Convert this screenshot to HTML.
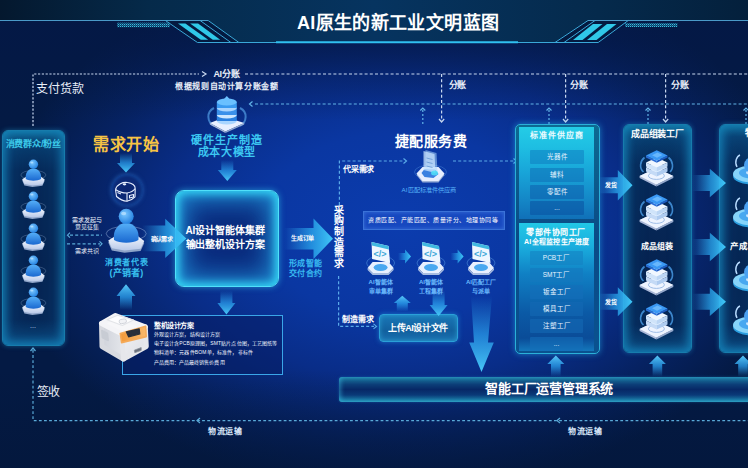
<!DOCTYPE html>
<html lang="zh-CN">
<head>
<meta charset="utf-8">
<style>
*{margin:0;padding:0;box-sizing:border-box}
html,body{width:748px;height:468px;overflow:hidden;background:#041a48}
body{position:relative;font-family:"Liberation Sans",sans-serif;color:#fff}
.a{position:absolute}
.bg{left:0;top:0;width:748px;height:468px;
 background:
  linear-gradient(180deg, rgba(4,24,70,.7) 40px, rgba(4,24,70,.35) 75px, rgba(4,24,70,0) 120px),
  linear-gradient(180deg, rgba(3,20,52,0) 0px, rgba(3,20,52,0) 370px, rgba(3,22,56,.55) 468px),
  radial-gradient(ellipse 400px 265px at 400px 225px, #0b3cae 0%, #0a37a2 35%, #092d88 58%, #062262 80%, #041a44 100%);
 background-color:#041a44}
.t{white-space:nowrap;line-height:1;z-index:3}
.k{display:inline-block;width:var(--w);text-align:center;font-style:normal}
.w{color:#fff}
.cy{color:#3cc8ee}
.panel{border-radius:6px;border:1px solid #177cac;box-shadow:0 0 5px rgba(40,180,235,.4), inset 0 0 9px 3px rgba(24,150,205,.65), inset 0 0 18px 6px rgba(20,110,170,.3);
 background:linear-gradient(180deg,#0c5a84 0px,#083e70 12px,#062a5a 40px,#062452 60%,#062858 88%,#0a4478 100%)}
.item{position:absolute;z-index:3;background:rgba(20,110,170,.55);border-radius:1px;font-size:6.5px;color:#e8f4ff;text-align:center;white-space:nowrap}
</style>
</head>
<body>
<div class="a bg"></div>

<!-- header band -->
<svg class="a" style="left:0;top:0" width="748" height="50">
 <defs>
  <linearGradient id="band" x1="0" x2="1" y1="0" y2="0">
   <stop offset="0" stop-color="#04182e"/>
   <stop offset="0.2" stop-color="#052a4a"/>
   <stop offset="0.5" stop-color="#063460"/>
   <stop offset="0.8" stop-color="#052a4c"/>
   <stop offset="1" stop-color="#04203c"/>
  </linearGradient>
  <pattern id="hatch" width="2" height="2" patternUnits="userSpaceOnUse">
   <rect width="1.2" height="1.2" fill="#37c0e0"/><rect x="1" y="1" width="1" height="1" fill="#2aa0c8" opacity=".6"/>
  </pattern>
 </defs>
 <polygon points="0,0 748,0 748,20.3 588,20.3 555,42.2 197.5,42.2 165.4,20.3 0,20.3" fill="url(#band)"/>
 <polygon points="165.4,20.3 208.2,20.3 238.9,42.4 197.5,42.4" fill="#041a40"/>
 <polygon points="588,20.3 628.2,20.3 598.2,42.2 555,42.2" fill="#041a40"/>
 <line x1="0" y1="20.5" x2="208" y2="20.5" stroke="#4a9ac8" stroke-width="1"/>
 <polyline points="165.4,20.5 197.5,42.5 238.9,42.5 208.2,20.5" stroke="#3aa8d8" fill="none"/>
 <line x1="200.1" y1="20.5" x2="230.9" y2="42.5" stroke="#3aa8d8"/>
 <polygon points="178,23.4 185.4,23.4 208.2,39.7 200.8,39.7" fill="#30c8e8"/>
 <polygon points="190.1,23.4 198.1,23.4 220.2,39.7 212.8,39.7" fill="#30c8e8"/>
 <rect x="117" y="22.7" width="53" height="4.5" fill="url(#hatch)"/>
 <line x1="238.9" y1="42.5" x2="276" y2="42.5" stroke="#3aa8d8"/>
 <line x1="276" y1="42.2" x2="518" y2="42.2" stroke="#30c0f0" stroke-width="2"/>
 <line x1="518" y1="42.5" x2="555" y2="42.5" stroke="#3aa8d8"/>
 <polyline points="555,42.5 588,20.5 628.2,20.5 598.2,42.5 555,42.5" stroke="#3aa8d8" fill="none"/>
 <line x1="564" y1="42.5" x2="595" y2="20.5" stroke="#3aa8d8"/>
 <line x1="588" y1="20.5" x2="748" y2="20.5" stroke="#4a9ac8"/>
 <polygon points="573,40 582.5,40 602.5,24 593,24" fill="#30c8e8"/>
 <polygon points="587,40 596.5,40 616.5,24 607,24" fill="#30c8e8"/>
 <rect x="625" y="23" width="52.4" height="4" fill="url(#hatch)"/>
</svg>
<div class="a t" style="left:296.90px;top:13.80px;font-size:18.00px;font-weight:bold;color:#fff;letter-spacing:0.36px;--w:18.36px">AI<i class="k">原</i><i class="k">生</i><i class="k">的</i><i class="k">新</i><i class="k">工</i><i class="k">业</i><i class="k">文</i><i class="k">明</i><i class="k">蓝</i><i class="k">图</i></div>

<!-- dashed lines -->
<svg class="a" style="left:0;top:0" width="748" height="468">
 <g fill="none" stroke-width="1.2">
  <path d="M33,126 V74 H199" stroke="#c8d8f0" stroke-dasharray="2.2 1.6"/>
  <path d="M202,71.5 L206,74 L202,76.5" stroke="#c8d8f0"/>
  <path d="M245,74 H748" stroke="#c8d8f0" stroke-dasharray="3 2.2"/>
  <path d="M441.6,74 V121" stroke="#c8d8f0" stroke-dasharray="3 2.2"/>
  <path d="M439,119 L441.6,122 L444.2,119" stroke="#c8d8f0"/>
  <path d="M565.6,74 V121" stroke="#c8d8f0" stroke-dasharray="3 2.2"/>
  <path d="M563,119 L565.6,122 L568.2,119" stroke="#c8d8f0"/>
  <path d="M665.6,74 V121" stroke="#c8d8f0" stroke-dasharray="3 2.2"/>
  <path d="M663,119 L665.6,122 L668.2,119" stroke="#c8d8f0"/>
  <path d="M255,104 H748" stroke="#62b4e8" stroke-dasharray="3 2.2"/>
  <path d="M252.5,101.5 L249.5,104 L252.5,106.5" stroke="#62b4e8"/>
  <path d="M422.8,110 V124" stroke="#62b4e8" stroke-dasharray="2 2"/>
  <path d="M420.3,110.5 L422.8,108 L425.3,110.5" stroke="#62b4e8"/>
  <path d="M549,110 V124" stroke="#62b4e8" stroke-dasharray="2 2"/>
  <path d="M546.5,110.5 L549,108 L551.5,110.5" stroke="#62b4e8"/>
  <path d="M648,110 V124" stroke="#62b4e8" stroke-dasharray="2 2"/>
  <path d="M645.5,110.5 L648,108 L650.5,110.5" stroke="#62b4e8"/>
  <path d="M746,110 V124" stroke="#62b4e8" stroke-dasharray="2 2"/>
  <path d="M743.5,110.5 L746,108 L748.5,110.5" stroke="#62b4e8"/>
  <path d="M33,350 V420.6 H748" stroke="#5aaad8" stroke-dasharray="2.8 2.3"/>
  <path d="M30.5,351 L33,348 L35.5,351" stroke="#5aaad8"/>
  <path d="M200,418 L197,420.6 L200,423" stroke="#5aaad8"/>
  <path d="M560,418 L557,420.6 L560,423" stroke="#5aaad8"/>
  <path d="M70,235.2 H102" stroke="#5aaad8" stroke-dasharray="3 2.2"/>
  <path d="M70,232.7 L67.5,235.2 L70,237.7" stroke="#5aaad8"/>
  <path d="M67,243.8 H100" stroke="#5aaad8" stroke-dasharray="3 2.2"/>
  <path d="M99.5,241.3 L102,243.8 L99.5,246.3" stroke="#5aaad8"/>
  <path d="M339.4,205 V161 H404" stroke="#5aaae8" stroke-dasharray="3 2.2"/>
  <path d="M403.5,158.5 L406.5,161 L403.5,163.5" stroke="#5aaae8"/>
  <path d="M453,161 H514" stroke="#5aaae8" stroke-dasharray="3 2.2"/>
  <path d="M513.5,158.5 L516.5,161 L513.5,163.5" stroke="#5aaae8"/>
  <path d="M338.6,276 V326.4 H374" stroke="#5aaae8" stroke-dasharray="3 2.2"/>
  <path d="M373.5,323.9 L376.5,326.4 L373.5,328.9" stroke="#5aaae8"/>
 </g>
</svg>

<!-- texts top -->
<div class="a t" style="left:36.20px;top:82.90px;font-size:12.00px;color:#e8eef8;letter-spacing:-0.08px;--w:11.92px"><i class="k">支</i><i class="k">付</i><i class="k">货</i><i class="k">款</i></div>
<div class="a t" style="left:213.40px;top:70.00px;font-size:9.00px;font-weight:bold;color:#e8eef8;letter-spacing:-0.27px;--w:8.73px">AI<i class="k">分</i><i class="k">账</i></div>
<div class="a t" style="left:175.00px;top:83.20px;font-size:8.00px;font-weight:bold;color:#e8eef8;letter-spacing:0.63px;--w:8.63px"><i class="k">根</i><i class="k">据</i><i class="k">规</i><i class="k">则</i><i class="k">自</i><i class="k">动</i><i class="k">计</i><i class="k">算</i><i class="k">分</i><i class="k">账</i><i class="k">金</i><i class="k">额</i></div>
<div class="a t" style="left:449.20px;top:80.60px;font-size:9.00px;font-weight:bold;color:#e8eef8;letter-spacing:-1.40px;--w:7.60px"><i class="k">分</i><i class="k">账</i></div>
<div class="a t" style="left:570.30px;top:80.60px;font-size:9.00px;font-weight:bold;color:#e8eef8;letter-spacing:-0.40px;--w:8.60px"><i class="k">分</i><i class="k">账</i></div>
<div class="a t" style="left:671.30px;top:80.60px;font-size:9.00px;font-weight:bold;color:#e8eef8;letter-spacing:-0.40px;--w:8.60px"><i class="k">分</i><i class="k">账</i></div>
<div class="a t" style="left:36.80px;top:385.50px;font-size:12.00px;color:#e8eef8;letter-spacing:-0.60px;--w:11.40px"><i class="k">签</i><i class="k">收</i></div>
<div class="a t" style="left:208.30px;top:428.00px;font-size:8.00px;font-weight:bold;color:#d8e6f8;letter-spacing:0.43px;--w:8.43px"><i class="k">物</i><i class="k">流</i><i class="k">运</i><i class="k">输</i></div>
<div class="a t" style="left:568.30px;top:428.00px;font-size:8.00px;font-weight:bold;color:#d8e6f8;letter-spacing:0.43px;--w:8.43px"><i class="k">物</i><i class="k">流</i><i class="k">运</i><i class="k">输</i></div>

<!-- left panel -->
<div class="a panel" style="left:2px;top:130px;width:63px;height:216px"></div>
<div class="a t" style="left:5.60px;top:139.50px;font-size:9.00px;font-weight:bold;color:#3cc8e8;letter-spacing:-0.14px;--w:8.86px"><i class="k">消</i><i class="k">费</i><i class="k">群</i><i class="k">众</i>/<i class="k">粉</i><i class="k">丝</i></div>

<!-- big panels right -->
<div class="a" style="left:514.5px;top:124px;width:85.5px;height:230px;border-radius:5px;background:linear-gradient(180deg,#0d6a92,#0a4a86 50%,#0a5290);border:1px solid #2ab0d8;box-shadow:0 0 6px rgba(40,190,240,.55)"></div>
<div class="a" style="left:519px;top:126.7px;width:75px;height:92px;background:linear-gradient(180deg,#24cce6 0%,#1ebee2 22%,#18a4d8 50%,#1486c6 80%,#1070b8 100%)"></div>
<div class="a" style="left:519px;top:222.8px;width:75px;height:128px;background:linear-gradient(180deg,#22c8e6 0%,#1aaede 18%,#1080c4 40%,#0b5aa6 70%,#0a4c98 90%,#1478bc 100%)"></div>
<div class="a t" style="left:530.20px;top:132.40px;font-size:8.00px;font-weight:bold;color:#e8fbff;letter-spacing:0.92px;--w:8.92px"><i class="k">标</i><i class="k">准</i><i class="k">件</i><i class="k">供</i><i class="k">应</i><i class="k">商</i></div>
<div class="item" style="left:530px;top:150px;width:54px;height:14px;line-height:14px;background:rgba(14,120,190,.5)">光器件</div>
<div class="item" style="left:530px;top:167.5px;width:54px;height:14px;line-height:14px;background:rgba(14,105,180,.5)">辅料</div>
<div class="item" style="left:530px;top:184.5px;width:54px;height:14px;line-height:14px;background:rgba(12,90,170,.5)">零配件</div>
<div class="item" style="left:530px;top:201.4px;width:54px;height:14px;line-height:14px;background:rgba(10,80,160,.55)">...</div>
<div class="a t" style="left:526.30px;top:229.30px;font-size:8.00px;font-weight:bold;color:#fff;letter-spacing:0.47px;--w:8.47px"><i class="k">零</i><i class="k">部</i><i class="k">件</i><i class="k">协</i><i class="k">同</i><i class="k">工</i><i class="k">厂</i></div>
<div class="a t" style="left:524.00px;top:238.40px;font-size:7.00px;font-weight:bold;color:#fff;letter-spacing:0.28px;--w:7.28px">AI<i class="k">全</i><i class="k">程</i><i class="k">监</i><i class="k">控</i><i class="k">生</i><i class="k">产</i><i class="k">进</i><i class="k">度</i></div>
<div class="item" style="left:530px;top:250.7px;width:53px;height:14px;line-height:14px;background:rgba(20,130,195,.6)">PCB工厂</div>
<div class="item" style="left:530px;top:267.8px;width:53px;height:14px;line-height:14px;background:rgba(20,120,190,.6)">SMT工厂</div>
<div class="item" style="left:530px;top:285px;width:53px;height:14px;line-height:14px;background:rgba(20,110,185,.6)">钣金工厂</div>
<div class="item" style="left:530px;top:302px;width:53px;height:14px;line-height:14px;background:rgba(20,105,180,.6)">模具工厂</div>
<div class="item" style="left:530px;top:319.4px;width:53px;height:14px;line-height:14px;background:rgba(20,105,180,.6)">注塑工厂</div>
<div class="item" style="left:530px;top:336.7px;width:53px;height:14.5px;line-height:14px;background:rgba(20,110,185,.6)">...</div>

<div class="a panel" style="left:622.5px;top:124px;width:69.7px;height:229px"></div>
<div class="a t" style="left:631.00px;top:130.10px;font-size:9.00px;font-weight:bold;color:#fff;letter-spacing:-0.20px;--w:8.80px"><i class="k">成</i><i class="k">品</i><i class="k">组</i><i class="k">装</i><i class="k">工</i><i class="k">厂</i></div>
<div class="a t" style="left:640.60px;top:242.50px;font-size:8.00px;font-weight:bold;color:#fff;letter-spacing:0.00px;--w:8.00px"><i class="k">成</i><i class="k">品</i><i class="k">组</i><i class="k">装</i></div>
<div class="a panel" style="left:718.8px;top:123.8px;width:40px;height:229.5px"></div>
<div class="a t" style="left:745px;top:128.5px;font-size:9px;font-weight:bold;color:#fff;--w:9.00px"><i class="k">物</i></div>
<div class="a t" style="left:730px;top:242px;font-size:8.5px;font-weight:bold;color:#fff;--w:9.00px"><i class="k">产</i><i class="k">成</i><i class="k">品</i></div>

<!-- left-center items -->
<div class="a t" style="left:93.00px;top:136.80px;font-size:16.00px;font-weight:bold;color:#f8c444;letter-spacing:0.67px;--w:16.67px"><i class="k">需</i><i class="k">求</i><i class="k">开</i><i class="k">始</i></div>
<div class="a" style="left:110.8px;top:174px;width:31.8px;height:31.8px;border-radius:50%;background:radial-gradient(circle at 50% 50%,#0a2470 0%,#0b2a78 55%,#1450a8 82%,#2468c0 94%,#1a4a9a 100%);box-shadow:0 0 4px rgba(60,140,230,.5)"></div>
<div class="a t" style="left:71.7px;top:216.6px;font-size:6px;color:#e8f0fa;--w:6.00px"><i class="k">需</i><i class="k">求</i><i class="k">发</i><i class="k">起</i><i class="k">与</i></div>
<div class="a t" style="left:74.7px;top:224.3px;font-size:6px;color:#e8f0fa;--w:6.00px"><i class="k">意</i><i class="k">见</i><i class="k">征</i><i class="k">集</i></div>
<div class="a t" style="left:74.7px;top:248.2px;font-size:6px;color:#e8f0fa;--w:6.00px"><i class="k">需</i><i class="k">求</i><i class="k">共</i><i class="k">识</i></div>
<div class="a t" style="left:105.40px;top:259.20px;font-size:8.00px;font-weight:bold;color:#38c0f0;letter-spacing:0.55px;--w:8.55px"><i class="k">消</i><i class="k">费</i><i class="k">者</i><i class="k">代</i><i class="k">表</i></div>
<div class="a t" style="left:109.50px;top:268.50px;font-size:9.00px;font-weight:bold;color:#38c0f0;letter-spacing:0.20px;--w:9.20px">(<i class="k">产</i><i class="k">销</i><i class="k">者</i>)</div>
<div class="a t" style="left:151.00px;top:236.30px;font-size:6.00px;font-weight:bold;color:#fff;letter-spacing:-0.76px;--w:5.24px"><i class="k">确</i><i class="k">认</i><i class="k">需</i><i class="k">求</i></div>

<!-- model -->
<div class="a t" style="left:191.00px;top:135.20px;font-size:11.00px;font-weight:bold;color:#3cc8f2;letter-spacing:0.94px;--w:11.94px"><i class="k">硬</i><i class="k">件</i><i class="k">生</i><i class="k">产</i><i class="k">制</i><i class="k">造</i></div>
<div class="a t" style="left:197.80px;top:146.90px;font-size:11.00px;font-weight:bold;color:#3cc8f2;letter-spacing:0.60px;--w:11.60px"><i class="k">成</i><i class="k">本</i><i class="k">大</i><i class="k">模</i><i class="k">型</i></div>

<!-- central box -->
<div class="a" style="left:174.7px;top:189.7px;width:104.3px;height:97.5px;border-radius:9px;border:1px solid #50e0fa;
 background:#0a2a7c;
 box-shadow:0 0 6px rgba(50,200,240,.6), inset 0 0 8px 3px rgba(52,212,244,1), inset 0 0 22px 8px rgba(36,160,226,.75), inset 0 0 34px 14px rgba(20,90,180,.5)"></div>
<div class="a t" style="left:185.50px;top:226.40px;font-size:10.00px;font-weight:bold;color:#fff;letter-spacing:-0.12px;--w:9.88px">AI<i class="k">设</i><i class="k">计</i><i class="k">智</i><i class="k">能</i><i class="k">体</i><i class="k">集</i><i class="k">群</i></div>
<div class="a t" style="left:185.50px;top:239.50px;font-size:10.00px;font-weight:bold;color:#fff;letter-spacing:-0.14px;--w:9.86px"><i class="k">输</i><i class="k">出</i><i class="k">整</i><i class="k">机</i><i class="k">设</i><i class="k">计</i><i class="k">方</i><i class="k">案</i></div>
<div class="a t" style="left:291.00px;top:234.50px;font-size:6.00px;font-weight:bold;color:#fff;letter-spacing:-0.17px;--w:5.83px"><i class="k">生</i><i class="k">成</i><i class="k">订</i><i class="k">单</i></div>
<div class="a t" style="left:289.00px;top:259.70px;font-size:8.00px;font-weight:bold;color:#38b8f0;letter-spacing:0.28px;--w:8.28px"><i class="k">形</i><i class="k">成</i><i class="k">智</i><i class="k">能</i></div>
<div class="a t" style="left:289.00px;top:270.20px;font-size:8.00px;font-weight:bold;color:#38b8f0;letter-spacing:0.28px;--w:8.28px"><i class="k">交</i><i class="k">付</i><i class="k">合</i><i class="k">约</i></div>
<div class="a" style="z-index:3;left:333.7px;top:205.5px;width:10px;font-weight:bold;font-size:10px;line-height:10.7px;color:#fff;text-align:center">采购制造需求</div>

<!-- plan box -->
<div class="a" style="left:121.5px;top:314.7px;width:161.5px;height:60.2px;border:1.2px solid #3aa6e8;background:rgba(6,30,100,.55)"></div>
<div class="a t" style="left:154.00px;top:321.60px;font-size:7.00px;font-weight:bold;color:#fff;letter-spacing:-0.44px;--w:6.56px"><i class="k">整</i><i class="k">机</i><i class="k">设</i><i class="k">计</i><i class="k">方</i><i class="k">案</i></div>
<div class="a t" style="left:153.50px;top:332.30px;font-size:5.00px;color:#f0f6ff;letter-spacing:0.17px;--w:5.17px"><i class="k">外</i><i class="k">观</i><i class="k">设</i><i class="k">计</i><i class="k">方</i><i class="k">案</i><i class="k">，</i><i class="k">结</i><i class="k">构</i><i class="k">设</i><i class="k">计</i><i class="k">方</i><i class="k">案</i></div>
<div class="a t" style="left:153.70px;top:340.80px;font-size:5.00px;color:#f0f6ff;letter-spacing:0.12px;--w:5.12px"><i class="k">电</i><i class="k">子</i><i class="k">设</i><i class="k">计</i><i class="k">含</i>PCB<i class="k">原</i><i class="k">理</i><i class="k">图</i><i class="k">，</i>SMT<i class="k">贴</i><i class="k">片</i><i class="k">点</i><i class="k">位</i><i class="k">图</i><i class="k">，</i><i class="k">工</i><i class="k">艺</i><i class="k">图</i><i class="k">纸</i><i class="k">等</i></div>
<div class="a t" style="left:153.50px;top:350.30px;font-size:5.00px;color:#f0f6ff;letter-spacing:0.16px;--w:5.16px"><i class="k">物</i><i class="k">料</i><i class="k">清</i><i class="k">单</i><i class="k">：</i><i class="k">元</i><i class="k">器</i><i class="k">件</i>BOM<i class="k">单</i><i class="k">，</i><i class="k">标</i><i class="k">准</i><i class="k">件</i><i class="k">，</i><i class="k">非</i><i class="k">标</i><i class="k">件</i></div>
<div class="a t" style="left:153.50px;top:359.80px;font-size:5.00px;color:#f0f6ff;letter-spacing:0.08px;--w:5.08px"><i class="k">产</i><i class="k">品</i><i class="k">费</i><i class="k">用</i><i class="k">：</i><i class="k">产</i><i class="k">品</i><i class="k">最</i><i class="k">终</i><i class="k">销</i><i class="k">售</i><i class="k">价</i><i class="k">费</i><i class="k">用</i></div>

<!-- 捷配 -->
<div class="a t" style="left:394.50px;top:133.50px;font-size:14.00px;font-weight:bold;color:#fff;letter-spacing:0.65px;--w:14.65px"><i class="k">捷</i><i class="k">配</i><i class="k">服</i><i class="k">务</i><i class="k">费</i></div>
<div class="a t" style="left:343.00px;top:165.70px;font-size:8.00px;font-weight:bold;color:#fff;letter-spacing:-0.24px;--w:7.76px"><i class="k">代</i><i class="k">采</i><i class="k">需</i><i class="k">求</i></div>
<div class="a t" style="left:401.5px;top:187px;font-size:6.2px;color:#58b4fa;letter-spacing:.1px;--w:6.10px">AI<i class="k">匹</i><i class="k">配</i><i class="k">标</i><i class="k">准</i><i class="k">件</i><i class="k">供</i><i class="k">应</i><i class="k">商</i></div>
<div class="a" style="left:362.5px;top:210.5px;width:142px;height:19px;border:1px solid #3a72d8;background:#1748c0;box-shadow:inset 0 0 4px rgba(90,150,240,.5)"></div>
<div class="a t" style="left:368.00px;top:216.80px;font-size:6.00px;color:#fff;letter-spacing:0.53px;--w:6.53px"><i class="k">资</i><i class="k">质</i><i class="k">匹</i><i class="k">配</i><i class="k">、</i><i class="k">产</i><i class="k">能</i><i class="k">匹</i><i class="k">配</i><i class="k">、</i><i class="k">质</i><i class="k">量</i><i class="k">评</i><i class="k">分</i><i class="k">、</i><i class="k">地</i><i class="k">理</i><i class="k">协</i><i class="k">同</i><i class="k">等</i></div>
<div class="a t" style="left:350.6px;top:279.0px;width:60px;text-align:center;font-size:6px;font-weight:bold;color:#6cbcff;z-index:4;--w:6.00px">AI<i class="k">智</i><i class="k">能</i><i class="k">体</i></div>
<div class="a t" style="left:350.6px;top:287.5px;width:60px;text-align:center;font-size:6px;font-weight:bold;color:#6cbcff;z-index:4;--w:6.00px"><i class="k">审</i><i class="k">单</i><i class="k">集</i><i class="k">群</i></div>
<div class="a t" style="left:401.0px;top:279.0px;width:60px;text-align:center;font-size:6px;font-weight:bold;color:#6cbcff;z-index:4;--w:6.00px">AI<i class="k">智</i><i class="k">能</i><i class="k">体</i></div>
<div class="a t" style="left:401.0px;top:287.5px;width:60px;text-align:center;font-size:6px;font-weight:bold;color:#6cbcff;z-index:4;--w:6.00px"><i class="k">工</i><i class="k">程</i><i class="k">集</i><i class="k">群</i></div>
<div class="a t" style="left:451.0px;top:279.0px;width:60px;text-align:center;font-size:6px;font-weight:bold;color:#6cbcff;z-index:4;--w:6.00px">AI<i class="k">匹</i><i class="k">配</i><i class="k">工</i><i class="k">厂</i></div>
<div class="a t" style="left:451.0px;top:287.5px;width:60px;text-align:center;font-size:6px;font-weight:bold;color:#6cbcff;z-index:4;--w:6.00px"><i class="k">与</i><i class="k">派</i><i class="k">单</i></div>
<div class="a" style="left:378.9px;top:313.9px;width:78.8px;height:27.9px;border-radius:4px;border:1px solid #2aa0d8;
 background:linear-gradient(180deg,#1a78b8,#12609e 60%,#1a70b0);box-shadow:0 0 5px rgba(40,180,240,.5),inset 0 0 5px rgba(60,200,240,.5)"></div>
<div class="a t" style="left:388.00px;top:323.70px;font-size:9.00px;font-weight:bold;color:#fff;letter-spacing:-0.39px;--w:8.61px"><i class="k">上</i><i class="k">传</i>AI<i class="k">设</i><i class="k">计</i><i class="k">文</i><i class="k">件</i></div>
<div class="a t" style="left:342.00px;top:316.00px;font-size:8.00px;font-weight:bold;color:#fff;letter-spacing:0.06px;--w:8.06px"><i class="k">制</i><i class="k">造</i><i class="k">需</i><i class="k">求</i></div>
<div class="a t" style="left:604.70px;top:182.00px;font-size:6.00px;font-weight:bold;color:#fff;letter-spacing:0.50px;--w:6.50px"><i class="k">发</i><i class="k">货</i></div>
<div class="a t" style="left:604.70px;top:299.10px;font-size:6.00px;font-weight:bold;color:#fff;letter-spacing:0.50px;--w:6.50px"><i class="k">发</i><i class="k">货</i></div>

<!-- bottom bar -->
<div class="a" style="left:338.8px;top:376.8px;width:420px;height:25.2px;border-radius:3px;
 background:linear-gradient(180deg,#2080a8 0,#186c98 8%,#0c3e78 30%,#072866 50%,#0a3a78 72%,#1a7aa6 92%,#2a96b8 100%);
 box-shadow:inset 2px 0 4px rgba(60,190,230,.5),0 0 3px rgba(40,160,220,.35)"></div>
<div class="a t" style="left:485.20px;top:382.10px;font-size:13.00px;font-weight:bold;color:#fff;letter-spacing:-0.19px;--w:12.81px"><i class="k">智</i><i class="k">能</i><i class="k">工</i><i class="k">厂</i><i class="k">运</i><i class="k">营</i><i class="k">管</i><i class="k">理</i><i class="k">系</i><i class="k">统</i></div>


<!-- ====== ICON DEFS ====== -->
<svg class="a" style="left:0;top:0" width="0" height="0">
 <defs>
  <radialGradient id="gHead" cx="0.4" cy="0.35" r="0.7">
   <stop offset="0" stop-color="#7cc8ff"/><stop offset="1" stop-color="#1f7ee0"/>
  </radialGradient>
  <linearGradient id="gBody" x1="0" y1="0" x2="0" y2="1">
   <stop offset="0" stop-color="#56b0f8"/><stop offset="1" stop-color="#1a68d0"/>
  </linearGradient>
  <linearGradient id="gBase" x1="0" y1="0" x2="0" y2="1">
   <stop offset="0" stop-color="#f4f8ff"/><stop offset="1" stop-color="#b8c8e8"/>
  </linearGradient>
  <linearGradient id="gArrR" x1="0" y1="0" x2="1" y2="0">
   <stop offset="0" stop-color="#2a9ee8" stop-opacity="0"/><stop offset="0.55" stop-color="#2aa8ee" stop-opacity=".75"/><stop offset="1" stop-color="#40c8f8"/>
  </linearGradient>
  <linearGradient id="gArrD" x1="0" y1="0" x2="0" y2="1">
   <stop offset="0" stop-color="#2a9ee8" stop-opacity="0"/><stop offset="0.5" stop-color="#2aa0ee" stop-opacity=".7"/><stop offset="1" stop-color="#48c8f8"/>
  </linearGradient>
  <linearGradient id="gArrU" x1="0" y1="1" x2="0" y2="0">
   <stop offset="0" stop-color="#2a9ee8" stop-opacity="0"/><stop offset="0.5" stop-color="#2aa0ee" stop-opacity=".75"/><stop offset="1" stop-color="#58c8f8"/>
  </linearGradient>
  <g id="person">
   <ellipse cx="0" cy="1" rx="12.5" ry="4.6" fill="none" stroke="#b8d0f0" stroke-width=".5" opacity=".5"/>
   <polygon points="-11.2,6.5 -6.5,3.5 7,3.5 11.3,6.8 9,11.8 -1,13 -9,11.5" fill="#8ea4c8"/>
   <polygon points="-11.2,5.3 -6.5,2.3 7,2.3 11.3,5.6 9,10.4 -1,11.6 -9,10.1" fill="url(#gBase)"/>
   <path d="M-7.6,5 C-8.6,-1 -5,-5.6 0,-5.6 C5,-5.6 8.6,-1 7.6,5 C4,7.2 -4,7.2 -7.6,5 Z" fill="url(#gBody)"/>
   <circle cx="0" cy="-9.8" r="4.7" fill="url(#gHead)"/>
   <ellipse cx="-1.6" cy="-11.5" rx="1.6" ry="1.1" fill="#c0e4ff" opacity=".7"/>
  </g>
  <g id="cube">
   <path d="M-12.5,5 C-17,1 -16,-6 -11.5,-9.5" fill="none" stroke="#4a9ee8" stroke-width="1.6" opacity=".8"/>
   <path d="M12.5,-9.5 C17,-6 18,1 14,5" fill="none" stroke="#4a9ee8" stroke-width="1.6" opacity=".8"/>
   <polygon points="-16.4,9 0.4,1 17.3,9 0.4,17.4 0.4,19.4 -16.4,11" fill="#aab8d8"/>
   <polygon points="17.3,9 17.3,11 0.4,19.4 0.4,17.4" fill="#95a8cc"/>
   <polygon points="-16.4,9 0.4,1 17.3,9 0.4,17.4" fill="#eef4ff"/>
   <ellipse cx="0.4" cy="8.8" rx="8" ry="3.6" fill="none" stroke="#8aaee0" stroke-width=".8"/>
   <polygon points="-10,0.5 0.7,-4.5 11.5,0.5 0.7,5.5" fill="#dfeeff"/>
   <polygon points="-10,0.5 0.7,5.5 0.7,9.5 -10,4.5" fill="#c4daf6"/>
   <polygon points="11.5,0.5 0.7,5.5 0.7,9.5 11.5,4.5" fill="#aecbf0"/>
   <polygon points="-10,-4.5 0.7,-9.5 11.5,-4.5 0.7,0.5" fill="#f0f7ff"/>
   <polygon points="-10,-4.5 0.7,0.5 0.7,4.5 -10,-0.5" fill="#d0e4fa"/>
   <polygon points="11.5,-4.5 0.7,0.5 0.7,4.5 11.5,-0.5" fill="#bcd6f4"/>
   <polygon points="-10,-11.4 0.7,-6.2 0.7,-4.2 -10,-9.4" fill="#2a6ed8"/>
   <polygon points="11.5,-11.4 0.7,-6.2 0.7,-4.2 11.5,-9.4" fill="#1e5cc4"/>
   <polygon points="-10,-11.4 0.7,-16.7 11.5,-11.4 0.7,-6.2" fill="#3a98f4"/>
   <polygon points="-4,-11.8 1.5,-14.5 6.5,-12 1,-9.3" fill="#7cc4ff" opacity=".7"/>
  </g>
  <g id="disc">
   <ellipse cx="0" cy="2" rx="19" ry="8.5" fill="#2a9ee0"/>
   <ellipse cx="0" cy="0" rx="19" ry="8.5" fill="#86d4fa"/>
   <ellipse cx="0" cy="-1" rx="13" ry="5.5" fill="#48a8f0"/>
   <ellipse cx="1" cy="-1.5" rx="7" ry="3" fill="#c8e4ff"/>
   <ellipse cx="1" cy="-9" rx="9" ry="8" fill="#4aa0f0"/>
   <path d="M-15,-7 C-18,-12 -15,-18 -12,-19" fill="none" stroke="#b8dcff" stroke-width="1.4"/>
  </g>
  <g id="mon">
   <ellipse cx="0" cy="5" rx="14" ry="7" fill="none" stroke="#6ab0f0" stroke-width=".7" opacity=".6"/>
   <polygon points="-13,10 -8,4 8,4 13,10 8,15 -8,15" fill="#e8f0ff"/>
   <polygon points="-13,10 -8,15 8,15 13,10 13,12 8,17 -8,17 -13,12" fill="#a8bce0"/>
   <ellipse cx="0" cy="9.5" rx="7" ry="3.5" fill="#4aa8f0"/>
   <polygon points="-9,-16 8,-12 9.5,5 -8.5,1" fill="#eef6ff"/>
   <polygon points="-9,-16 8,-12 8.3,-8.5 -8.7,-12.5" fill="#40b8e0"/>
   <text x="-0.5" y="-1" font-size="9" fill="#40a8d8" text-anchor="middle" font-family="Liberation Sans" font-weight="bold">&lt;/&gt;</text>
  </g>
  <g id="doc">
   <ellipse cx="0" cy="8" rx="16" ry="7" fill="none" stroke="#6ab0f0" stroke-width=".6" opacity=".5"/>
   <polygon points="-14,11 -8,4 8,4 14,11 8,18.4 -8,18.4" fill="#9ab0d8"/>
   <polygon points="-14,9.6 -8,3 8,3 14,9.6 8,17 -8,17" fill="#e6eeff"/>
   <polygon points="-6,5 4,5 8,10 3,14 -6,13 -9,9" fill="#3a80e0"/>
   <polygon points="-5,-14 6,-11 7,8 -5,5" fill="#a8d4fa" opacity=".55"/>
   <polygon points="-7,-13 4,-10 5,9 -7,6" fill="#c8e4ff" opacity=".75"/>
   <line x1="-4" y1="-6" x2="2" y2="-4.5" stroke="#5a90d0" stroke-width=".7"/>
   <line x1="-4" y1="-2" x2="2" y2="-0.5" stroke="#5a90d0" stroke-width=".7"/>
   <line x1="-4" y1="2" x2="2" y2="3.5" stroke="#5a90d0" stroke-width=".7"/>
   <ellipse cx="4" cy="9" rx="3.5" ry="2.5" fill="#50e0f8" opacity=".85"/>
  </g>
 </defs>
</svg>

<!-- arrows -->
<svg class="a" style="left:0;top:0" width="748" height="468">
<polygon points="142,225.6 165.2,225.6 165.2,218.8 186.3,238.4 165.2,258 165.2,251.2 142,251.2" fill="url(#gArrR)"/>
<polygon points="284,228.10000000000002 313.5,228.10000000000002 313.5,218.5 333,238.8 313.5,259.1 313.5,249.5 284,249.5" fill="url(#gArrR)"/>
<polygon points="598,177.3 617.8,177.3 617.8,170.0 632.5,185.3 617.8,200.60000000000002 617.8,193.3 598,193.3" fill="url(#gArrR)"/>
<polygon points="598,293.7 617.8,293.7 617.8,287.2 632.5,301.7 617.8,316.2 617.8,309.7 598,309.7" fill="url(#gArrR)"/>
<polygon points="692,175 709.8,175 709.8,168.8 726,183 709.8,197.2 709.8,191 692,191" fill="url(#gArrR)"/>
<polygon points="692,239 709.8,239 709.8,232.8 726,247 709.8,261.2 709.8,255 692,255" fill="url(#gArrR)"/>
<polygon points="692,293.7 709.8,293.7 709.8,287.5 726,301.7 709.8,315.9 709.8,309.7 692,309.7" fill="url(#gArrR)"/>
<polygon points="120,153 132,153 132,163 135,163 126,172.4 117,163 120,163" fill="url(#gArrD)"/>
<polygon points="221.3,160 233.3,160 233.3,170 236.8,170 227.3,181 217.8,170 221.3,170" fill="url(#gArrD)"/>
<polygon points="220.4,290.6 232.4,290.6 232.4,303 235.4,303 226.4,314.6 217.4,303 220.4,303" fill="url(#gArrD)"/>
<polygon points="432.6,290 444.6,290 444.6,305 447.6,305 438.6,316 429.6,305 432.6,305" fill="url(#gArrD)"/>
<polygon points="471,296 492,296 488,342.5 493.8,342.5 481.5,371.9 469.2,342.5 474,342.5" fill="url(#gArrD)"/>
<polygon points="120,310 132,310 132,296 135.5,296 126,284.3 116.5,296 120,296" fill="url(#gArrU)"/>
<polygon points="396.8,311.6 407.8,311.6 407.8,303 410.8,303 402.3,295.7 393.8,303 396.8,303" fill="url(#gArrU)"/>
<polygon points="551.0,376.8 560.5999999999999,376.8 560.5999999999999,364 564.3,364 555.8,355.5 547.3,364 551.0,364" fill="url(#gArrU)"/>
<polygon points="652.6,376.8 662.1999999999999,376.8 662.1999999999999,364 665.9,364 657.4,355.5 648.9,364 652.6,364" fill="url(#gArrU)"/>
<polygon points="738.2,376.8 747.8,376.8 747.8,364 751.5,364 743,355.5 734.5,364 738.2,364" fill="url(#gArrU)"/>
<polygon points="398,252.89999999999998 405,252.89999999999998 405,249.39999999999998 411,256.4 405,263.4 405,259.9 398,259.9" fill="url(#gArrR)"/>
<polygon points="450.6,252.89999999999998 457.6,252.89999999999998 457.6,249.39999999999998 463.6,256.4 457.6,263.4 457.6,259.9 450.6,259.9" fill="url(#gArrR)"/>
</svg>
<!-- icons -->
<svg class="a" style="left:0;top:0" width="748" height="468">
 <use href="#person" x="33.4" y="174"/>
 <use href="#person" x="33.4" y="206"/>
 <use href="#person" x="33.4" y="238"/>
 <use href="#person" x="33.4" y="270"/>
 <use href="#person" x="33.4" y="302"/>
 <text x="33" y="328" font-size="7" fill="#c8d8f0" text-anchor="middle" font-family="Liberation Sans">...</text>
 <g transform="translate(126.2,232) scale(1.6)"><use href="#person"/></g>
 <use href="#cube" x="656" y="167"/>
 <use href="#cube" x="656" y="211"/>
 <use href="#cube" x="656" y="276"/>
 <use href="#cube" x="656" y="320"/>
 <use href="#disc" x="752" y="174"/>
 <use href="#disc" x="752" y="217"/>
 <use href="#disc" x="752" y="281"/>
 <use href="#disc" x="752" y="325"/>
 <use href="#mon" x="380.6" y="258"/>
 <use href="#mon" x="431" y="258"/>
 <use href="#mon" x="481" y="258"/>
 <use href="#doc" x="430.5" y="164"/>
 <!-- database model -->
 <g>
  <path d="M214,108 C206,112 207,122 214,126" fill="none" stroke="#4a90d8" stroke-width="2" opacity=".8"/>
  <path d="M240,108 C248,112 247,122 240,126" fill="none" stroke="#4a90d8" stroke-width="2" opacity=".8"/>
  <polygon points="209.9,123 225.4,116.9 244.2,123 225.4,131.5" fill="#e8f0ff"/>
  <polygon points="209.9,123 225.4,131.5 225.4,133 209.9,124.5" fill="#a8b8d8"/>
  <polygon points="244.2,123 225.4,131.5 225.4,133 244.2,124.5" fill="#90a8d0"/>
  <ellipse cx="226.8" cy="121" rx="10" ry="3.5" fill="#aad6ff"/>
  <rect x="216.8" y="115" width="20" height="6" fill="#2a80e0"/>
  <ellipse cx="226.8" cy="115" rx="10" ry="3.5" fill="#cde6ff"/>
  <rect x="216.8" y="108" width="20" height="7" fill="#3a90ea"/>
  <ellipse cx="226.8" cy="108" rx="10" ry="3.5" fill="#a8d4ff"/>
  <rect x="216.8" y="102" width="20" height="6" fill="#3a9af0"/>
  <ellipse cx="226.8" cy="102" rx="10" ry="3.5" fill="#6ac0ff"/>
  <path d="M224,99 L226.8,96 L229.6,99 Z" fill="#6ac0ff"/>
 </g>
 <!-- circle icon rice cooker outline -->
 <g fill="none" stroke="#e8f0ff" stroke-width="1.1" stroke-linejoin="round">
  <path d="M115.5,189.5 C117,184 123,181.8 127.5,182.5 C132,183 135.5,185.5 135.2,188.5"/>
  <path d="M115.5,189.5 C119,192 124,193 127,193 C130.5,192.5 133.5,191 135.2,188.5"/>
  <path d="M115.5,189.5 L116.5,196.5 C120,199.5 124,201 127,201.3 C130,200.5 133,199 135,196.8 L135.2,188.5"/>
  <line x1="127" y1="193" x2="127" y2="201.2"/>
  <path d="M129.5,195.5 L133.5,194.5 L133.5,197 L129.5,198 Z"/>
  <path d="M117.5,192.5 L121,194"/>
 </g>
 <ellipse cx="124.5" cy="184.3" rx="1.8" ry="1.1" fill="#e8f0ff"/>
 <!-- rice cooker -->
 <defs>
  <linearGradient id="ckL" x1="0" y1="0" x2="1" y2="0"><stop offset="0" stop-color="#cfd2da"/><stop offset="1" stop-color="#e4e6eb"/></linearGradient>
  <linearGradient id="ckF" x1="0" y1="0" x2="1" y2="1"><stop offset="0" stop-color="#f2f2f5"/><stop offset="1" stop-color="#dcdee4"/></linearGradient>
  <linearGradient id="ckO" x1="0" y1="0" x2="1" y2="0"><stop offset="0" stop-color="#f39a3a"/><stop offset="1" stop-color="#f8b86a"/></linearGradient>
 </defs>
 <g stroke-linejoin="round">
  <path d="M101.5,323.5 L121.5,333.8 L123.4,359 L102,346.5 Z" fill="url(#ckL)" stroke="#d8dae0" stroke-width="5"/>
  <path d="M121.5,333.8 L145.3,326.8 L146.3,346.5 L123.4,359 Z" fill="url(#ckF)" stroke="#e6e7eb" stroke-width="5"/>
  <path d="M115.5,315.5 L101.5,323.5 L121.5,333.8 L145.3,326.8 Z" fill="#f7f7f9" stroke="#f4f4f7" stroke-width="5"/>
  <path d="M107,319.8 L117.6,315.2 L133.5,320 L122.3,325.5 Z" fill="#fdfdfe" stroke="#e2e4e8" stroke-width="1.2"/>
  <rect x="119.2" y="319.2" width="7.2" height="4.2" rx="1.8" fill="#f2f3f6" stroke="#c4c8d0" stroke-width=".7" transform="rotate(-10 122.8 321.3)"/>
  <path d="M120.3,333.4 L145.6,326.3 L146.2,336.6 L121.6,342.6 Z" fill="url(#ckO)" stroke="#f5aa58" stroke-width="1.6"/>
  <path d="M126.3,331.8 L139.2,328.8 L139.8,334 L128.6,336.8 Z" fill="#2a2f3a" stroke="#2a2f3a" stroke-width="1.2"/>
  <path d="M101.8,330.5 L107.5,333.5 L108.2,340.5 L102.3,337.5 Z" fill="#c8ccd4" stroke="#c8ccd4" stroke-width="1.5"/>
  <path d="M134.3,350.2 L141.2,347.6 L141.2,350.4 L134.8,352.7 Z" fill="#6a707c" stroke="#8a909a" stroke-width=".8"/>
 </g>
</svg>
</body>
</html>
